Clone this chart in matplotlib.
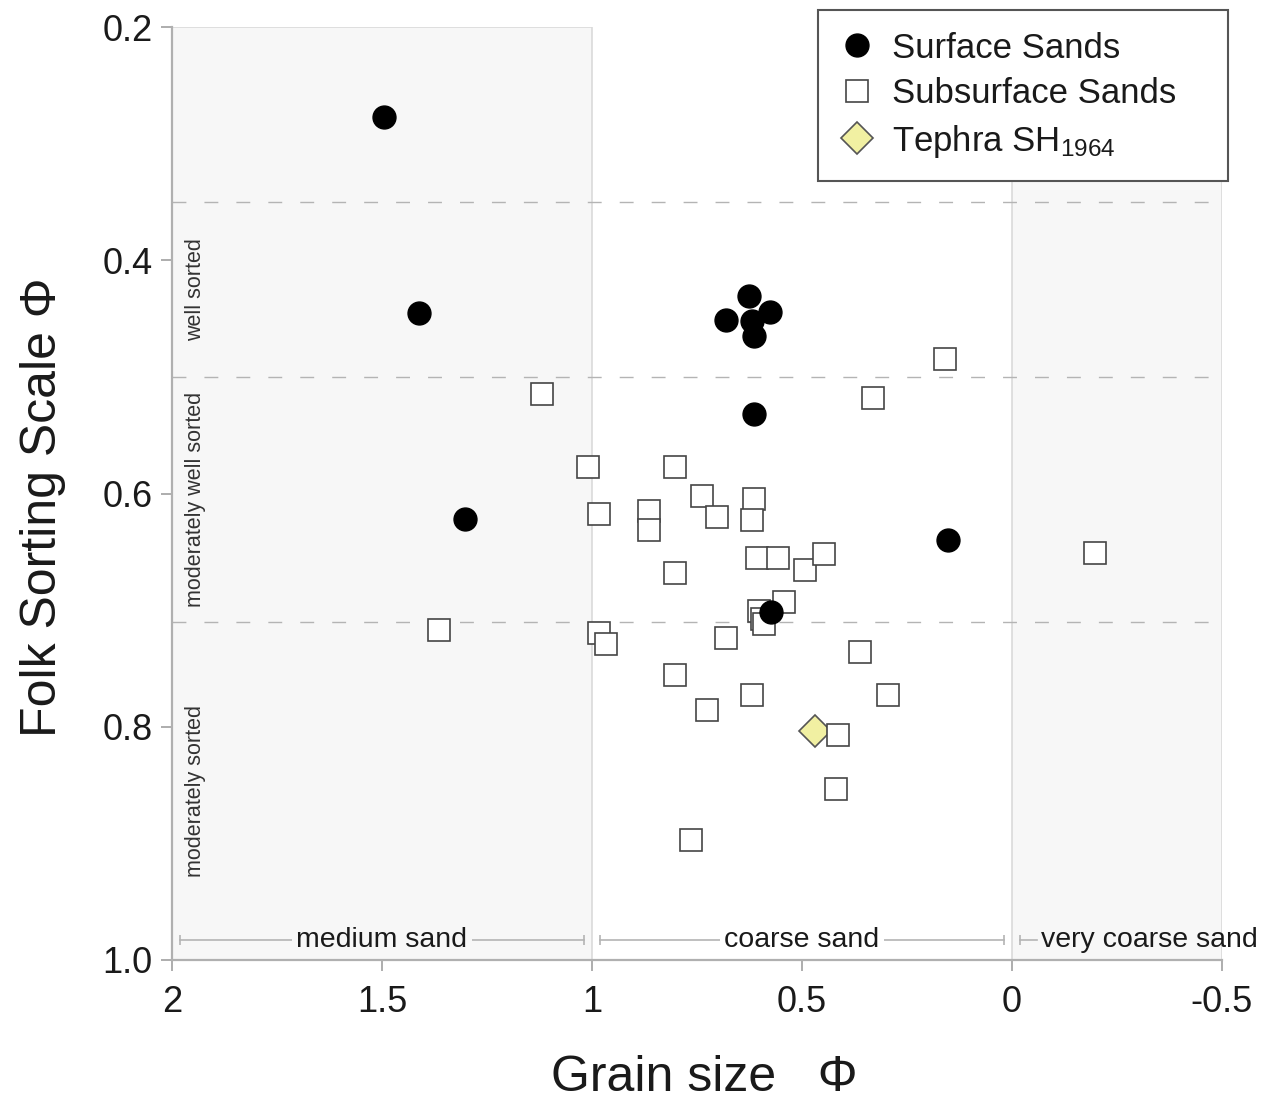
"""
Grain size vs. Folk sorting for surface and subsurface sands,
with the SH1964 tephra sample for comparison.
"""

import matplotlib
matplotlib.use("Agg")
import matplotlib.pyplot as plt

# ── Style ─────────────────────────────────────────────────────────────────────
SHADE    = "#f7f7f7"
EDGE     = "#dadada"
SPINE    = "#b0b0b0"
DASH     = "#b4b4b4"
TEXT     = "#1a1a1a"
SQ_EDGE  = "#454545"
TEPHRA   = "#f1f0a2"

plt.rcParams.update({
    "font.family":       ["Liberation Sans", "DejaVu Sans"],
    "mathtext.default":  "regular",
    "text.color":        TEXT,
    "axes.labelcolor":   TEXT,
    "xtick.color":       "#a0a0a0",
    "ytick.color":       "#a0a0a0",
    "xtick.labelcolor":  TEXT,
    "ytick.labelcolor":  TEXT,
})

# ── Data (grain size Φ, Folk sorting Φ) ───────────────────────────────────────
surface_x = [1.495, 1.412, 1.303, 0.626, 0.681, 0.577, 0.620, 0.615, 0.615,
             0.574, 0.152]
surface_y = [0.277, 0.445, 0.622, 0.431, 0.451, 0.444, 0.452, 0.465, 0.532,
             0.702, 0.640]

subsurface_x = [1.120, 0.160, 0.330, 1.009, 0.802, 0.983, 0.864, 0.864, 0.737,
                0.703, 0.614, 0.618, 0.802, 0.608, 0.556, 0.493, 0.447, -0.198,
                0.542, 0.602, 0.594, 0.590, 1.364, 0.983, 0.967, 0.681, 0.362,
                0.802, 0.618, 0.295, 0.727, 0.414, 0.419, 0.765]
subsurface_y = [0.515, 0.485, 0.518, 0.577, 0.577, 0.618, 0.615, 0.631, 0.602,
                0.620, 0.605, 0.623, 0.668, 0.655, 0.655, 0.666, 0.652, 0.651,
                0.693, 0.701, 0.708, 0.712, 0.717, 0.720, 0.729, 0.724, 0.736,
                0.756, 0.773, 0.773, 0.786, 0.807, 0.853, 0.897]

tephra_x = [0.469]
tephra_y = [0.804]

# Folk sorting class limits and names
sorting_limits = [0.35, 0.50, 0.71, 1.00]
sorting_names  = ["well sorted", "moderately well sorted", "moderately sorted"]

# Wentworth grain-size classes (Φ)
grain_limits = [2.0, 1.0, 0.0, -0.5]
grain_names  = ["medium sand", "coarse sand", "very coarse sand"]

x_ticks = [2, 1.5, 1, 0.5, 0, -0.5]
x_tick_labels = ["2", "1.5", "1", "0.5", "0", "-0.5"]
y_ticks = [0.2, 0.4, 0.6, 0.8, 1.0]
y_tick_labels = ["0.2", "0.4", "0.6", "0.8", "1.0"]


def draw_background(ax):
    # shaded medium / very coarse sand fields
    ax.axvspan(grain_limits[0], grain_limits[1], facecolor=SHADE,
               edgecolor=EDGE, lw=1.2, zorder=0)
    ax.axvspan(grain_limits[2], grain_limits[3], facecolor=SHADE,
               edgecolor=EDGE, lw=1.2, zorder=0)

    # sorting class boundaries
    for lim in sorting_limits[:-1]:
        ax.axhline(lim, color=DASH, lw=1.0, dashes=(10, 13), zorder=1)

    # sorting class names, rotated along the left edge
    for lo, hi, name in zip(sorting_limits[:-1], sorting_limits[1:], sorting_names):
        ax.text(1.945, (lo + hi) / 2, name, rotation=90, ha="center",
                va="center", fontsize=15.5, color="#333333", zorder=2)


def draw_grain_classes(ax):
    y = 0.983
    line_kw = dict(color=DASH, lw=1.2, marker="|", markersize=7,
                   markeredgewidth=1.2, zorder=2)
    for i, name in enumerate(grain_names):
        lo, hi = grain_limits[i], grain_limits[i + 1]
        if i == len(grain_names) - 1:
            # last class: short lead-in, label runs past the axis edge
            ax.plot([lo - 0.02, lo - 0.06], [y, y], markevery=[0], **line_kw)
            ax.text(lo - 0.068, y, name, ha="left", va="center",
                    fontsize=20.5, color=TEXT, zorder=3)
            continue
        bg = SHADE if i == 0 else "white"
        ax.plot([lo - 0.02, hi + 0.02], [y, y], **line_kw)
        ax.text((lo + hi) / 2, y, name, ha="center", va="center",
                fontsize=20.5, color=TEXT, zorder=3,
                bbox=dict(facecolor=bg, edgecolor="none", pad=3))


def main():
    fig = plt.figure(figsize=(12.7, 10.99), dpi=100)
    ax = fig.add_axes([0.1354, 0.1265, 0.8268, 0.8489])

    draw_background(ax)
    draw_grain_classes(ax)

    ax.plot(tephra_x, tephra_y, ls="none", marker="D", markersize=16,
            markerfacecolor=TEPHRA, markeredgecolor="#555555",
            markeredgewidth=1.2, zorder=4, label="Tephra SH$_{1964}$")
    ax.plot(subsurface_x, subsurface_y, ls="none", marker="s", markersize=16.5,
            markerfacecolor="white", markeredgecolor=SQ_EDGE,
            markeredgewidth=1.2, zorder=5, label="Subsurface Sands")
    ax.plot(surface_x, surface_y, ls="none", marker="o", markersize=16.5,
            color="black", zorder=6, label="Surface Sands")

    ax.set_xlim(2, -0.5)
    ax.set_ylim(1.0, 0.2)
    ax.set_xticks(x_ticks)
    ax.set_xticklabels(x_tick_labels)
    ax.set_yticks(y_ticks)
    ax.set_yticklabels(y_tick_labels)
    ax.tick_params(direction="out", length=8, width=1.2, labelsize=26, pad=6)
    ax.tick_params(axis="x", pad=10)

    for side in ("top", "right"):
        ax.spines[side].set_visible(False)
    for side in ("left", "bottom"):
        ax.spines[side].set_color(SPINE)
        ax.spines[side].set_linewidth(1.6)

    ax.set_xlabel("Grain size   Φ", fontsize=36)
    ax.set_ylabel("Folk Sorting Scale Φ", fontsize=36)
    ax.xaxis.set_label_coords(0.507, -0.102)
    ax.yaxis.set_label_coords(-0.101, 0.485)

    handles, labels = ax.get_legend_handles_labels()
    order = [2, 1, 0]
    leg = ax.legend([handles[i] for i in order], [labels[i] for i in order],
                    loc="upper left", mode="expand",
                    bbox_to_anchor=(818 / 1270, 1 - 182 / 1099, 410 / 1270, 172 / 1099),
                    bbox_transform=fig.transFigure, borderaxespad=0,
                    fontsize=25, handlelength=1.0, handletextpad=0.5,
                    borderpad=0.62, labelspacing=0.36, markerscale=1.0,
                    fancybox=False, framealpha=1)
    leg.get_frame().set_edgecolor("#555555")
    leg.get_frame().set_linewidth(1.5)
    leg.set_zorder(10)

    fig.savefig("out.png", dpi=100)
    plt.close(fig)


if __name__ == "__main__":
    main()
